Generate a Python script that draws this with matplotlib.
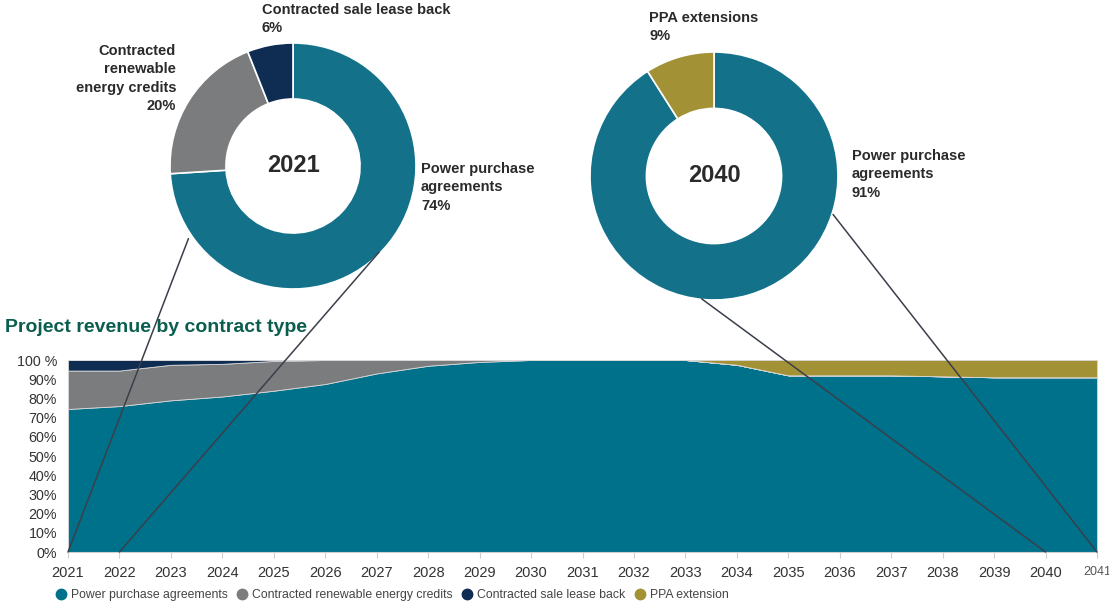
import matplotlib.pyplot as plt
from matplotlib.patches import ConnectionPatch
from matplotlib.lines import Line2D

plt.rcParams['font.family'] = ['Liberation Sans', 'DejaVu Sans']

years = list(range(2021, 2042))
ppa = [74.5, 76, 79, 81, 84, 87.5, 93, 97, 99, 100, 100, 100, 100, 97.5, 92, 92, 92, 91.5, 91, 91, 91]
rec = [20, 18.5, 18.5, 17, 15.5, 12.5, 7, 3, 1, 0, 0, 0, 0, 0, 0, 0, 0, 0, 0, 0, 0]
slb = [5.5, 5.5, 2.5, 2, 0.5, 0, 0, 0, 0, 0, 0, 0, 0, 0, 0, 0, 0, 0, 0, 0, 0]
ext = [0, 0, 0, 0, 0, 0, 0, 0, 0, 0, 0, 0, 0, 2.5, 8, 8, 8, 8.5, 9, 9, 9]

series_names = ['Power purchase agreements', 'Contracted renewable energy credits',
                'Contracted sale lease back', 'PPA extension']
area_colors = ['#00718A', '#7B7C7E', '#0F2D52', '#A39135']
yticks = [0, 10, 20, 30, 40, 50, 60, 70, 80, 90, 100]
ytick_labels = ['0%', '10%', '20%', '30%', '40%', '50%', '60%', '70%', '80%', '90%', '100 %']

donut_2021 = [74, 20, 6]
donut_2021_colors = ['#13728A', '#7B7C7E', '#0F2D52']
donut_2040 = [91, 9]
donut_2040_colors = ['#13728A', '#A39135']

text_dark = '#2A2A2A'
line_color = '#3A3F4A'

fig = plt.figure(figsize=(11.09, 6.05), dpi=100)

# stacked area
ax = fig.add_axes([68 / 1109, 1 - 552 / 605, (1097 - 68) / 1109, (552 - 360) / 605])
ax.stackplot(years, ppa, rec, slb, ext, colors=area_colors, linewidth=0.6,
             edgecolor='#D8D8D8')
ax.set_xlim(2021, 2041)
ax.set_ylim(0, 100)
ax.set_yticks(yticks)
ax.set_yticklabels(ytick_labels)
ax.set_xticks(years)
ax.set_xticklabels([str(y) for y in years])
for s in ['top', 'right', 'left']:
    ax.spines[s].set_visible(False)
ax.spines['bottom'].set_color('#CFCFCF')
ax.tick_params(axis='y', length=0, labelsize=10.3, colors='#333333', pad=8)
ax.tick_params(axis='x', length=4, color='#CFCFCF', labelsize=10.5, labelcolor='#333333', pad=6)
ax.get_xticklabels()[-1].set_fontsize(9)
ax.get_xticklabels()[-1].set_color('#555555')

fig.text(5 / 1109, 1 - 327 / 605, 'Project revenue by contract type', fontsize=14,
         fontweight='bold', color='#0B5E4E', va='center', ha='left')

# donuts
axd1 = fig.add_axes([170 / 1109, 1 - 289 / 605, 246 / 1109, 246 / 605])
axd1.pie(donut_2021, colors=donut_2021_colors, startangle=90, counterclock=False,
         radius=1, wedgeprops=dict(width=0.455, edgecolor='white', linewidth=1.2))
axd1.set_xlim(-1, 1)
axd1.set_ylim(-1, 1)
axd1.text(0, 0, '2021', ha='center', va='center', fontsize=17, fontweight='bold', color=text_dark)

axd2 = fig.add_axes([590 / 1109, 1 - 300 / 605, 248 / 1109, 248 / 605])
axd2.pie(donut_2040, colors=donut_2040_colors, startangle=90, counterclock=False,
         radius=1, wedgeprops=dict(width=0.455, edgecolor='white', linewidth=1.2))
axd2.set_xlim(-1, 1)
axd2.set_ylim(-1, 1)
axd2.text(0, 0, '2040', ha='center', va='center', fontsize=17, fontweight='bold', color=text_dark)

lab = dict(fontsize=10.5, fontweight='bold', color=text_dark, linespacing=1.4)
fig.text(262 / 1109, 1 - 3 / 605, 'Contracted sale lease back\n6%', ha='left', va='top', **lab)
fig.text(176 / 1109, 1 - 44 / 605, 'Contracted\nrenewable\nenergy credits\n20%',
         ha='right', va='top', multialignment='right', **lab)
fig.text(421 / 1109, 1 - 162 / 605, 'Power purchase\nagreements\n74%', ha='left', va='top', **lab)
fig.text(649 / 1109, 1 - 11 / 605, 'PPA extensions\n9%', ha='left', va='top', **lab)
fig.text(852 / 1109, 1 - 149 / 605, 'Power purchase\nagreements\n91%', ha='left', va='top', **lab)

# connector lines from donuts to the area chart
links = [(axd1, (-0.85, -0.59), 2021), (axd1, (0.70, -0.70), 2022),
         (axd2, (-0.10, -0.99), 2040), (axd2, (0.96, -0.31), 2041)]
for dax, xy, yr in links:
    con = ConnectionPatch(xyA=xy, coordsA=dax.transData, xyB=(yr, 0), coordsB=ax.transData,
                          color=line_color, linewidth=1.1, zorder=10)
    fig.add_artist(con)

# legend
handles = [Line2D([], [], marker='o', linestyle='none', markersize=7.5, markerfacecolor=c,
                  markeredgecolor=c) for c in area_colors]
fig.legend(handles, series_names, loc='center left', bbox_to_anchor=(44 / 1109, 1 - 595 / 605),
           ncol=4, frameon=False, fontsize=8.8, labelcolor='#444444', handletextpad=0.3,
           columnspacing=0.7, handlelength=1.0)

fig.savefig('out.png', dpi=100)
